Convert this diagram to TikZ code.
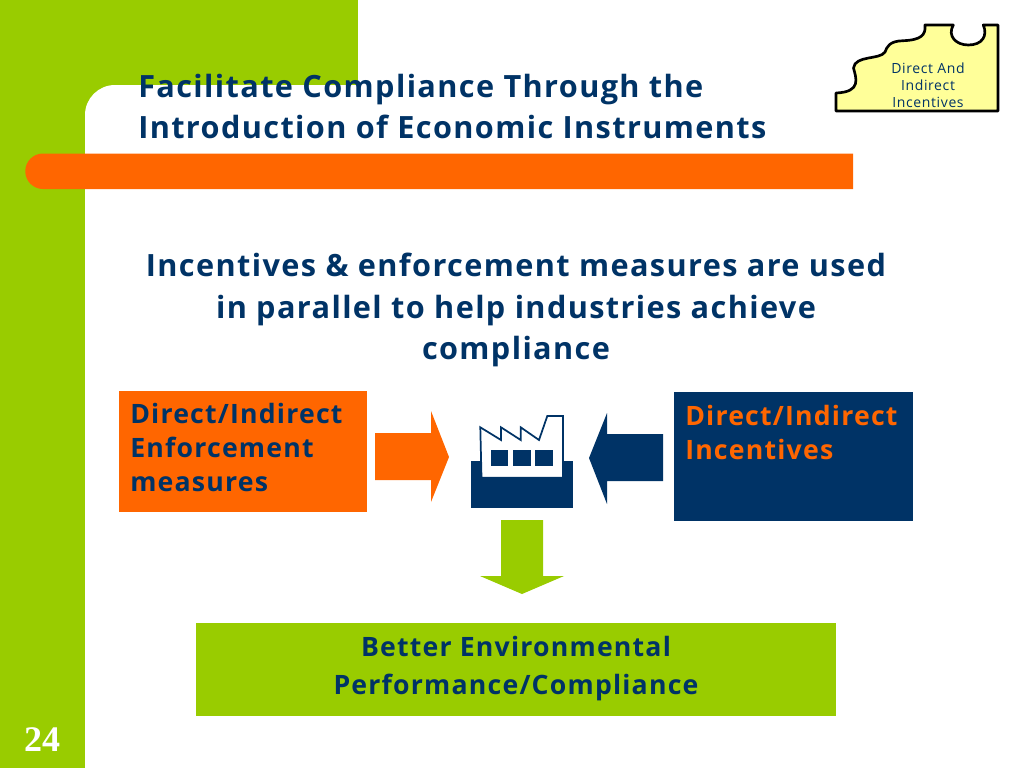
\documentclass[tikz,border=0pt]{standalone}
\usepackage{fontspec}
\setmainfont[LetterSpace=4.5]{Open Sans}
\newfontfamily\numfont{Liberation Serif}
\usetikzlibrary{positioning}
\definecolor{lime}{HTML}{99CC00}
\definecolor{navy}{HTML}{003366}
\definecolor{tang}{HTML}{FF6600}
\definecolor{puzz}{HTML}{FFFF99}
\begin{document}
\begin{tikzpicture}[x=.75pt,y=-.75pt,
 every node/.style={font=\bfseries,inner sep=0pt,text=navy},
 big/.style={font=\fontsize{23}{31}\selectfont\bfseries},
 mid/.style={font=\fontsize{20}{25.5}\selectfont\bfseries}]
\useasboundingbox (0,0) rectangle (1024,768);
% background
\fill[lime] (0,0) rectangle (358,115);
\fill[lime] (0,0) rectangle (85,768);
\fill[white] (85,115) arc[start angle=180,end angle=270,radius=30] -- (358,85) -- (358,160) -- (85,160) -- cycle;
\fill[tang] (43,153.5) -- (853,153.5) -- (853,189) -- (43,189) arc[start angle=90,end angle=270,radius=17.75] -- cycle;
\node[font=\fontsize{27}{27}\selectfont\numfont\bfseries,text=white] (num) at (42,740) {24};
% heading
\node[big,align=left,anchor=north west] (title) at (138,74) {Facilitate Compliance Through the\\Introduction of Economic Instruments};
\node[big,align=center,anchor=north] (lead) at (516,253) {Incentives \& enforcement measures are used\\in parallel to help industries achieve\\compliance};
% puzzle piece
\draw[line width=2pt,fill=puzz,line join=round] (836,111) -- (998,111) -- (998,25) -- (983.3,25)
 .. controls (988,36) and (982,45) .. (968.3,45) .. controls (956,45) and (947,36) .. (953.3,25)
 -- (925,25) .. controls (926,35) and (921,40) .. (903.3,40.7) .. controls (889,41) and (887,47) .. (885,52)
 .. controls (880,60) and (855,55) .. (853.5,68) .. controls (856,78) and (862,92) .. (836,93) -- cycle;
\node[font=\fontsize{10.5}{12.6}\selectfont,align=center] (tag) at (928,85.5) {Direct And\\Indirect\\Incentives};
% boxes
\node[fill=tang,minimum width=186pt,minimum height=90.75pt,anchor=north west] (enf) at (119,391) {};
\node[mid,align=left,anchor=north west] at (130,403) (enftxt) {Direct/Indirect\\Enforcement\\measures};
\node[fill=navy,minimum width=179.25pt,minimum height=96.75pt,anchor=north west] (inc) at (674,392) {};
\node[mid,text=tang,align=left,anchor=north west] at (685,405) (inctxt) {Direct/Indirect\\Incentives};
\node[fill=lime,minimum width=480pt,minimum height=69.75pt,anchor=north west] (res) at (196,623) {};
\node[mid,align=center] at (516,669) (restxt) {Better Environmental\\[3pt]Performance/Compliance};
% block arrows
\fill[tang] (375,433) -- (431,433) -- (431,411) -- (449,457) -- (431,502) -- (431,480) -- (375,480) -- cycle;
\fill[navy] (663,434) -- (607,434) -- (607,413) -- (589,458) -- (607,504) -- (607,481) -- (663,481) -- cycle;
\fill[lime] (501,520) -- (543,520) -- (543,576) -- (564,576) -- (522,594) -- (480,576) -- (501,576) -- cycle;
% factory
\fill[navy] (471,461) rectangle (573,508);
\draw[navy,line width=1.3pt,fill=white,line join=miter] (480.3,427.3) -- (501,440) -- (501,427.3) -- (520.7,440) -- (520.7,427.3) -- (539,440) -- (547.3,416) -- (563,416) -- (563,477.7) -- (481.5,477.7) -- cycle;
\foreach \wx in {490.7,513,535.3}
 \fill[navy] (\wx,450) rectangle ++(17.7,16.3);
\end{tikzpicture}
\end{document}
